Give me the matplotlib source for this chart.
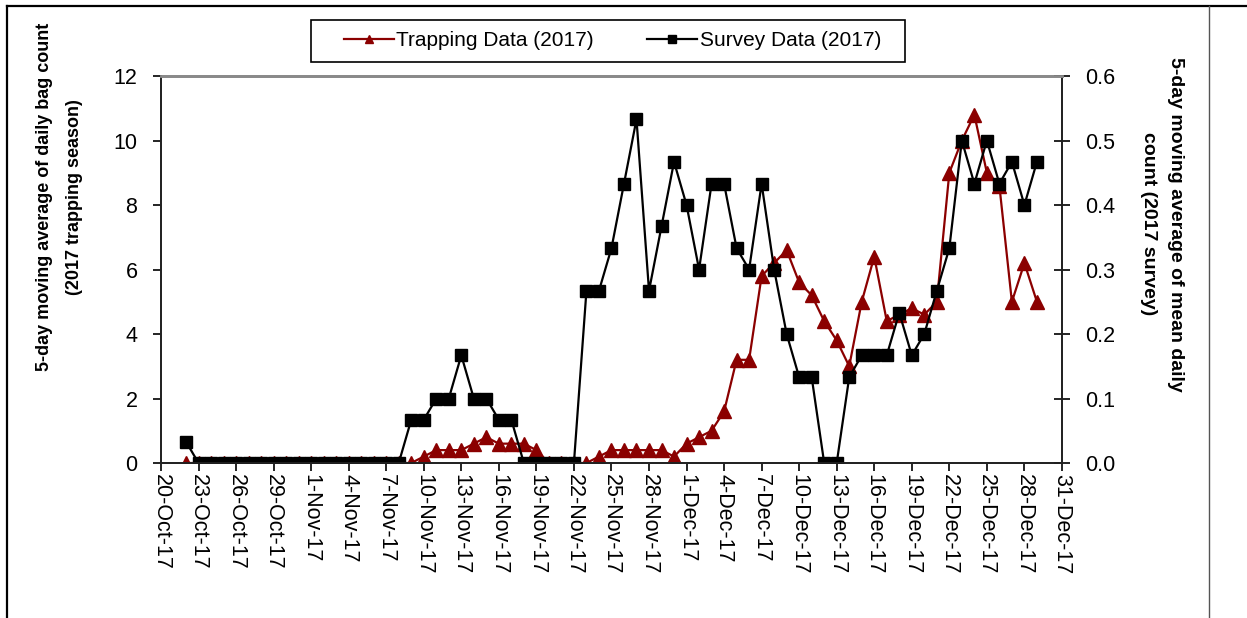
import pandas as pd
import matplotlib
matplotlib.use('Agg')
import matplotlib.pyplot as plt
import matplotlib.dates as mdates
from matplotlib.lines import Line2D
from matplotlib.patches import Rectangle

plt.rcParams['font.family'] = ['Liberation Sans', 'DejaVu Sans']

# dias com dados: 22-Oct-17 ate 29-Dec-17
datas = pd.date_range('2017-10-22', '2017-12-29')

# media movel de 5 dias (armadilhas) - eixo esquerdo
trapping = [0, 0, 0, 0, 0, 0, 0, 0, 0, 0, 0, 0, 0, 0, 0, 0, 0, 0, 0,
            0.2, 0.4, 0.4, 0.4, 0.6, 0.8, 0.6, 0.6, 0.6, 0.4,
            0, 0, 0, 0, 0.2, 0.4, 0.4, 0.4, 0.4, 0.4,
            0.2, 0.6, 0.8, 1.0, 1.6, 3.2, 3.2, 5.8, 6.2, 6.6,
            5.6, 5.2, 4.4, 3.8, 3.0, 5.0, 6.4, 4.4, 4.6, 4.8,
            4.6, 5.0, 9.0, 10.0, 10.8, 9.0, 8.6, 5.0, 6.2, 5.0]

# media movel de 5 dias (levantamento) - eixo direito
survey = [0.033, 0, 0, 0, 0, 0, 0, 0, 0, 0, 0, 0, 0, 0, 0, 0, 0, 0, 0.067,
          0.067, 0.1, 0.1, 0.167, 0.1, 0.1, 0.067, 0.067, 0, 0,
          0, 0, 0, 0.267, 0.267, 0.333, 0.433, 0.533, 0.267, 0.367,
          0.467, 0.4, 0.3, 0.433, 0.433, 0.333, 0.3, 0.433, 0.3, 0.2,
          0.133, 0.133, 0, 0, 0.133, 0.167, 0.167, 0.167, 0.233, 0.167,
          0.2, 0.267, 0.333, 0.5, 0.433, 0.5, 0.433, 0.467, 0.4, 0.467]

ticks_x = pd.date_range('2017-10-20', '2017-12-31', freq='3D')
ticks_esq = [0, 2, 4, 6, 8, 10, 12]
ticks_dir = [0.0, 0.1, 0.2, 0.3, 0.4, 0.5, 0.6]

fig = plt.figure(figsize=(12.47, 6.18), dpi=100)
ax = fig.add_axes([0.1291, 0.2508, 0.7225, 0.6262])
ax2 = ax.twinx()

ax.plot(datas, trapping, color='#8B0000', lw=1.6, marker='^', markersize=9.5,
        label='Trapping Data (2017)')
ax2.plot(datas, survey, color='black', lw=1.6, marker='s', markersize=9.3,
         label='Survey Data (2017)')

ax.set_xlim(ticks_x[0], ticks_x[-1])
ax.set_ylim(0, 12)
ax2.set_ylim(0, 0.6)
ax.set_yticks(ticks_esq)
ax2.set_yticks(ticks_dir)
ax2.set_yticklabels(['%.1f' % v for v in ticks_dir])
ax.set_xticks(ticks_x)
ax.xaxis.set_major_formatter(mdates.DateFormatter('%-d-%b-%y'))
for lb in ax.get_xticklabels():
    lb.set_rotation(270)
    lb.set_ha('center')
    lb.set_va('top')

ax.tick_params(axis='both', labelsize=15.5, direction='out', length=6, width=1.2)
ax.tick_params(axis='x', pad=2)
ax.tick_params(axis='y', pad=11)
ax2.tick_params(axis='y', labelsize=15.5, direction='inout', length=12, width=1.2, pad=11)

for a in (ax, ax2):
    for lado in ('left', 'right', 'bottom'):
        a.spines[lado].set_linewidth(1.3)
        a.spines[lado].set_color('#222222')
    a.spines['top'].set_color('#8a8a8a')
    a.spines['top'].set_linewidth(2)

fig.text(0.0481, 0.681, '5-day moving average of daily bag count\n(2017 trapping season)',
         rotation=90, ha='center', va='center', multialignment='center',
         fontsize=13, fontweight='bold', linespacing=2.0)
fig.text(0.9318, 0.6375, '5-day moving average of mean daily\ncount (2017 survey)',
         rotation=270, ha='center', va='center', multialignment='center',
         fontsize=14, fontweight='bold', linespacing=1.75)

# legenda sem moldura + caixa desenhada a parte
h1, l1 = ax.get_legend_handles_labels()
h2, l2 = ax2.get_legend_handles_labels()
fig.legend(h1 + h2, l1 + l2, ncol=2, loc='center',
           bbox_to_anchor=(0.491, 0.9337), frameon=False,
           fontsize=15, markerscale=0.6, handlelength=2.4,
           handletextpad=0.1, columnspacing=2.6)
fig.add_artist(Rectangle((311 / 1247, 1 - 62 / 618), 594 / 1247, 42 / 618,
                         transform=fig.transFigure, fill=False,
                         edgecolor='black', lw=1.2))

# moldura da figura
fig.add_artist(Line2D([0.0056, 0.0056], [0, 0.9903], transform=fig.transFigure,
                      color='black', lw=1.6))
fig.add_artist(Line2D([0.0056, 1], [0.9903, 0.9903], transform=fig.transFigure,
                      color='black', lw=1.6))
fig.add_artist(Line2D([0.9695, 0.9695], [0, 0.9903], transform=fig.transFigure,
                      color='#555555', lw=1))

fig.savefig('out.png', dpi=100)
